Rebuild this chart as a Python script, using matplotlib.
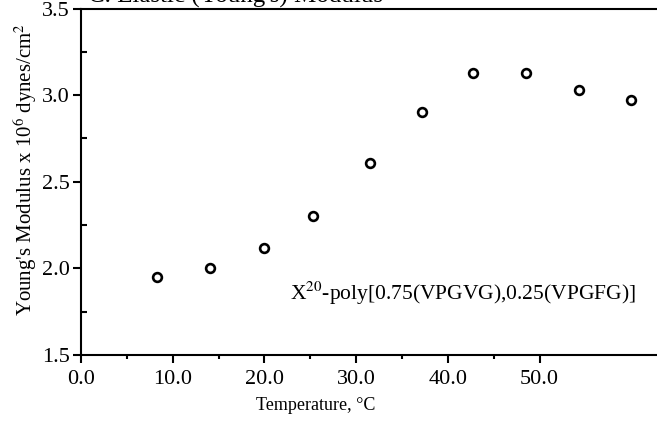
import matplotlib.pyplot as plt
from matplotlib.ticker import FixedLocator, MultipleLocator, FormatStrFormatter

plt.rcParams['font.family'] = ['Liberation Serif', 'DejaVu Serif']
plt.rcParams['mathtext.fontset'] = 'stix'

temperature = [8.3, 14.1, 20.0, 25.3, 31.5, 37.2, 42.7, 48.5, 54.3, 60.0]
modulus = [1.95, 2.00, 2.12, 2.30, 2.61, 2.90, 3.13, 3.13, 3.03, 2.97]
x_major = [0, 10, 20, 30, 40, 50]
x_minor = [5, 15, 25, 35, 45]

W, H = 657, 421
fig = plt.figure(figsize=(W / 100, H / 100), dpi=100)
# axes: x=0 at px 81, 9.17 px per unit; y 1.5 at px 355, 3.5 at px 8.5
x0, ppx = 81, 9.17
xmax = 65
ax = fig.add_axes([x0 / W, (H - 355) / H, xmax * ppx / W, (355 - 8.5) / H])

ax.plot(temperature, modulus, 'o', mfc='white', mec='black', mew=1.9, ms=6.3,
        linestyle='none', clip_on=False)

ax.set_xlim(0, xmax)
ax.set_ylim(1.5, 3.5)
ax.xaxis.set_major_locator(FixedLocator(x_major))
ax.xaxis.set_minor_locator(FixedLocator(x_minor))
ax.yaxis.set_major_locator(MultipleLocator(0.5))
ax.yaxis.set_minor_locator(MultipleLocator(0.25))
ax.xaxis.set_major_formatter(FormatStrFormatter('%.1f'))
ax.yaxis.set_major_formatter(FormatStrFormatter('%.1f'))

ax.spines['right'].set_visible(False)
for s in ['left', 'bottom', 'top']:
    ax.spines[s].set_linewidth(1.5)

ax.tick_params(axis='x', which='major', direction='out', length=6, width=1.5,
               labelsize=16, pad=5, top=False)
ax.tick_params(axis='x', which='minor', direction='out', length=3, width=1.5, top=False)
ax.tick_params(axis='y', which='major', direction='out', length=6, width=1.5,
               labelsize=16, pad=2)
ax.tick_params(axis='y', which='minor', direction='in', length=4, width=1.5)

ax.set_xlabel('Temperature, °C', fontsize=13)
ax.xaxis.set_label_coords((316 - x0) / (xmax * ppx), (355 - 405) / 346.5)
ax.set_ylabel("Young's Modulus x 10$^6$ dynes/cm$^2$", fontsize=15)
ax.yaxis.set_label_coords((25 - x0) / (xmax * ppx), (355 - 170) / 346.5)
ax.xaxis.label.set_va('center')
ax.yaxis.label.set_va('center')

ax.text(290 / W, 1 - 293 / H, 'X$^{20}$-poly[0.75(VPGVG),0.25(VPGFG)]',
        transform=fig.transFigure, fontsize=15.5, ha='left', va='center')

# title clipped at the top edge, as in the reference
fig.text(88 / W, 1 - 3 / H, "C. Elastic (Young's) Modulus", fontsize=18,
         ha='left', va='baseline')

fig.savefig('out.png', dpi=100)
